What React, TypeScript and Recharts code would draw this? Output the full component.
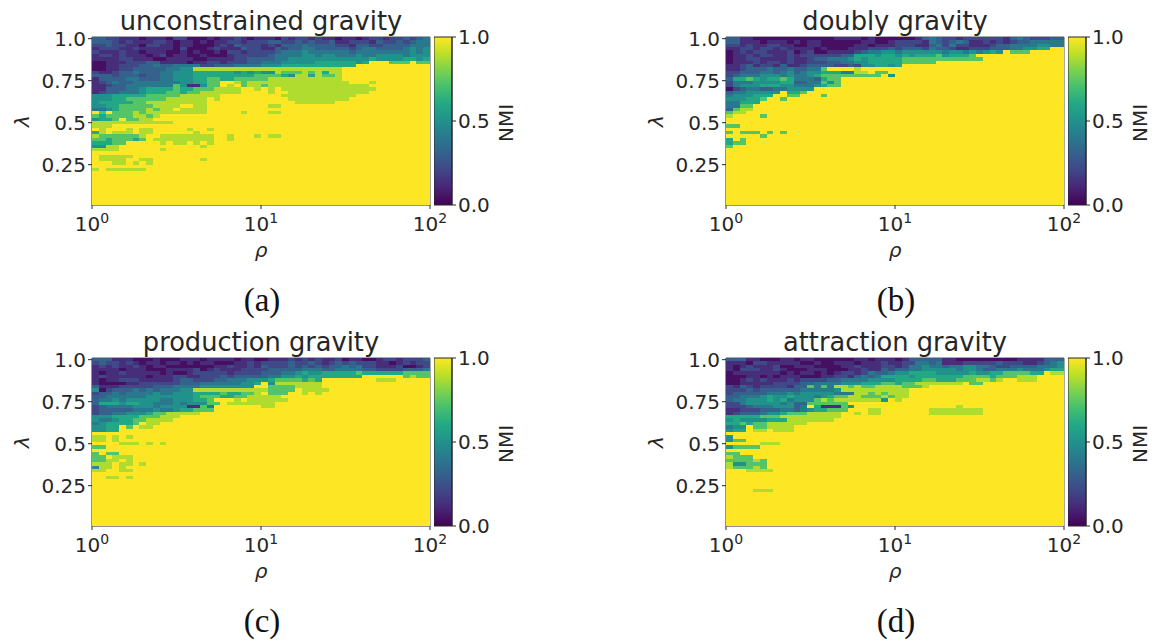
import React from 'react';
import {
  BarChart,
  Bar,
  ScatterChart,
  Scatter,
  XAxis,
  YAxis,
  ReferenceLine,
} from 'recharts';

// rho of each heatmap column (log spaced, cell centres)
const rhoValues = [
  1.047, 1.148, 1.259, 1.38, 1.514, 1.66, 1.82, 1.995, 2.188, 2.399,
  2.63, 2.884, 3.162, 3.467, 3.802, 4.169, 4.571, 5.012, 5.495, 6.026,
  6.607, 7.244, 7.943, 8.71, 9.55, 10.47, 11.48, 12.59, 13.8, 15.14,
  16.6, 18.2, 19.95, 21.88, 23.99, 26.3, 28.84, 31.62, 34.67, 38.02,
  41.69, 45.71, 50.12, 54.95, 60.26, 66.07, 72.44, 79.43, 87.1, 95.5,
];

// lambda of each heatmap row, top row first
const lambdaValues = [
  1.0, 0.98, 0.96, 0.94, 0.92, 0.9, 0.88, 0.86, 0.84, 0.82,
  0.8, 0.78, 0.76, 0.74, 0.72, 0.7, 0.68, 0.66, 0.64, 0.62,
  0.6, 0.58, 0.56, 0.54, 0.52, 0.5, 0.48, 0.46, 0.44, 0.42,
  0.4, 0.38, 0.36, 0.34, 0.32, 0.3, 0.28, 0.26, 0.24, 0.22,
  0.2, 0.18, 0.16, 0.14, 0.12, 0.1, 0.08, 0.06, 0.04, 0.02,
];

// NMI for the digits used in the rows below, '.' means 1.0
const nmiLevels = [0.04, 0.13, 0.22, 0.31, 0.4, 0.5, 0.6, 0.73, 0.88, 0.95];

// Rows, top to bottom. Columns are grouped in tens,
// whatever is left out of a row (or a whole row) is NMI 1.0
const unconstrainedRows = [
  '3322111011 1022000101 1210111021 2212110110 1221223234',
  '3332121112 2101101011 2212223322 3232231122 2132232344',
  '2232211022 1101100012 1322212133 3433332213 3223333444',
  '1222112111 1102000121 1132211323 3443333323 4433334545',
  '2111211011 1001010010 2212222344 4544444434 4444444545',
  '1221211101 2011001000 1222223444 4554554445 4455554555',
  '1111221110 0111100111 1223333445 5555555555 5655556656',
  '0011122233 1111011221 2223344455 5556666665 6...777.77',
  '0011222334 3344442233 3444455566 666666666. ..........',
  '0011223333 3445588888 8888888888 8888888... ..........',
  '2112334333 4455566666 6565655877 7878688... ..........',
  '3332333233 4455566666 6666777765 8868778... ..........',
  '1333344333 4455566776 6777778888 8888888... ..........',
  '1234334444 444556677. .878888888 88888888.. .8........',
  '1123344444 447511577. 8.78878888 8888888888 8.........',
  '1133344566 6676677788 88..8.8.88 8888888888 88........',
  '1233444566 6776778888 88....8..8 8888888888 8.........',
  '5556666677 777888888. ........88 888888888. ..........',
  '5556677777 7888888.8. .........8 88888888.. ..........',
  '5666667788 8888888... .......... 888888.... ..........',
  '5566777778 888..88... ......88..',
  '4456777787 88.8888...',
  '.7.7778788 8888888... ..8...88..',
  '7677778878',
  '5667.7788.',
  '8888888888 88',
  '888',
  '.8...8.88. ....8..8..',
  '68.888.88. .....8....',
  '87777778.. 88888888.. 8...8.88..',
  '77677767.8 88888888.. 8.........',
  '66677..... 8.88.8.8..',
  '5588...... ......8...',
  '8888...... 8.',
  '',
  '.88888',
  '.8888..88. ......8...',
  '...88.8.8.',
  '',
  '8.888888',
];

const doublyRows = [
  '3311000000 0000001111 0100000013 4322122222 2134322233',
  '3311101110 1011000000 1100122221 4323431121 2123344444',
  '2212112211 0011000001 1011122211 3424221112 3344445544',
  '1122122121 1110100011 1222323332 4332112223 33445566..',
  '0121221112 0120011112 3445545555 5545545456 5.777.....',
  '0112122112 1222222336 6656656566 6756667... ..........',
  '0112211112 1123344456 5666667777 77777777.. ..........',
  '0111212212 1122233445 5666667777 7......... ..........',
  '1123122131 1233332232 556656.... .......... ..........',
  '1123334334 33447....8',
  '2233344345 3455666448 8.77......',
  '2344455545 4456777777 777.5.....',
  '3667656676 4443677...',
  '2444555566 3344757...',
  '2455566655 4445677...',
  '0234433445 555.......',
  '3445555 5.6 67........',
  '4555666..7 7...7.....',
  '555667..7.',
  '44666',
  '4477',
  '3788',
  '788',
  '8....7',
  '',
  '',
  '77',
  '',
  '7.777.7.7',
  '.....7',
  '6.7',
  '677',
  '7',
];

const productionRows = [
  '3331110001 0001110111 1011001112 1212112011 0012212223',
  '2322121011 0110101100 0112122223 2232123232 2211012122',
  '1212112101 1000000011 2112132223 2323233434 2211120012',
  '1111011100 0111120121 1122223333 3444334444 3322223334',
  '1011211111 0100122222 1222233344 5655666667 6666667777',
  '1211111101 1122112223 2333334455 6566666666 ......7877',
  '1011222111 1123322233 4445556777 7676...... ..888.....',
  '1000011222 2223334444 44556.5888 8888...... ..........',
  '3111222223 3344445555 5555..7777 8888...... ..........',
  '5023334343 4445588888 8888887777 .8888..... ..........',
  '2334344445 4455566667 66778.777. .8.8......',
  '3344444455 5555567776 67788888..',
  '3445455555 44555667.. .8.888888.',
  '3666566554 445455577. 8888888...',
  '2344445554 55551174.. .....88...',
  '2333334445 44566777..',
  '2334455567 788888....',
  '5556666777 888.......',
  '5445667788 88........',
  '4566667.88',
  '5566.7.88',
  '5566',
  '',
  '88.8.8',
  '88.8',
  '....888.8. 8',
  '77',
  '',
  '7.77',
  '77.888',
  '7788.8',
  '888.88.8',
  '588.8',
  '88..88',
  '',
  '..88.8',
];

const attractionRows = [
  '3331100011 0110000001 1011101333 3311000000 0001111333',
  '1110221111 1001001110 1112112244 3411122222 3222112345',
  '1012111200 1110000112 1112212445 4434455443 2233334445',
  '1022211210 0011100011 2113233445 5555455433 4445444566',
  '0111111101 0110101221 2433455666 6555556556 6777766.88',
  '0001101011 1000112213 4346666566 6666677776 777888....',
  '0012121112 1222233444 4555566667 7666777887 8..888....',
  '0011111222 2334444555 6667767788 88888.77.. ..........',
  '2132122221 3374748878 7788887778',
  '2223233333 3444445888 8888888...',
  '2333334445 4555554448 8787888...',
  '3344456556 5554567788 7778788...',
  '3445556564 5557878888 8885.8....',
  '2245555545 33777777..',
  '2223444555 34.611175. .......... ....8.....',
  '1122233344 34566777.. .88....... 88888888..',
  '1233345567 7788888..8 .88....... 88888888..',
  '6666677788 8888888...',
  '5655556668 888888....',
  '6676778888 88........',
  '455.778888',
  '566.88.888',
  '',
  '5',
  '577',
  '.....888',
  '57777',
  '',
  '77',
  '8777',
  '777787',
  '855777',
  '877787',
  '...8888',
  '',
  '',
  '',
  '',
  '',
  '....888',
];

const xTicks = [1, 10, 100];
const yTicks = [0.25, 0.5, 0.75, 1];
const colorbarTicks = [0, 0.5, 1];

const VIRIDIS = [
  '#440154', '#482475', '#414487', '#355f8d', '#2a788e', '#21918c',
  '#22a884', '#44bf70', '#7ad151', '#bddf26', '#fde725',
];

const INK = '#262626';
const SANS = '"DejaVu Sans", sans-serif';
const PLOT_W = 338;
const PLOT_H = 168;
const AXIS_W = 92;
const AXIS_H = 60;
const TOP_PAD = 14;
const RIGHT_PAD = 30;
const CBAR_W = 18;
const CBAR_AXIS = 80;
const CELL_W = PLOT_W / rhoValues.length;
const CELL_H = PLOT_H / lambdaValues.length;

const panels = [
  { key: 'a', title: 'unconstrained gravity', tag: '(a)', rows: unconstrainedRows, left: 92, top: 37 },
  { key: 'b', title: 'doubly gravity', tag: '(b)', rows: doublyRows, left: 726, top: 37 },
  { key: 'c', title: 'production gravity', tag: '(c)', rows: productionRows, left: 92, top: 358 },
  { key: 'd', title: 'attraction gravity', tag: '(d)', rows: attractionRows, left: 726, top: 358 },
];

const viridis = (v: number) => {
  const pos = Math.min(Math.max(v, 0), 1) * (VIRIDIS.length - 1);
  const i = Math.min(Math.floor(pos), VIRIDIS.length - 2);
  const t = pos - i;
  const a = VIRIDIS[i];
  const b = VIRIDIS[i + 1];
  const mix = (s: number) => {
    const ca = parseInt(a.slice(s, s + 2), 16);
    const cb = parseInt(b.slice(s, s + 2), 16);
    return Math.round(ca + (cb - ca) * t);
  };
  return `rgb(${mix(1)},${mix(3)},${mix(5)})`;
};

const buildCells = (rows: string[]) =>
  lambdaValues.flatMap((lambda, r) => {
    const row = (rows[r] || '').replace(/ /g, '').padEnd(rhoValues.length, '.');
    return rhoValues.map((rho, c) => {
      const ch = row[c];
      return { rho, lambda, nmi: ch === '.' ? 1 : nmiLevels[Number(ch)] };
    });
  });

const HeatCell = (props: any) => {
  const { cx, cy, payload } = props;
  return (
    <rect
      x={cx - CELL_W / 2}
      y={cy - CELL_H / 2}
      width={CELL_W + 0.4}
      height={CELL_H + 0.4}
      fill={viridis(payload.nmi)}
      shapeRendering="crispEdges"
    />
  );
};

const PowerTick = (props: any) => {
  const { x, y, payload } = props;
  return (
    <text x={x} y={y + 20} textAnchor="middle" fontFamily={SANS} fontSize={20} fill={INK}>
      10
      <tspan dy={-8} fontSize={14}>
        {Math.round(Math.log10(payload.value))}
      </tspan>
    </text>
  );
};

// axis title placed by hand, recharts anchors rotated labels at their end
const AxisText = ({ text, px, py, rotate, italic }: any) => (
  <text
    x={px}
    y={py}
    textAnchor="middle"
    dominantBaseline="central"
    transform={rotate ? `rotate(-90 ${px} ${py})` : undefined}
    fontFamily={SANS}
    fontStyle={italic ? 'italic' : 'normal'}
    fontSize={20}
    fill={INK}
  >
    {text}
  </text>
);

const formatY = (v: number) => (v === 1 ? '1.0' : String(v));

const Panel = ({ panel }: { panel: (typeof panels)[number] }) => {
  const cells = buildCells(panel.rows);
  const gradientId = `viridis-${panel.key}`;
  return (
    <>
      <div
        style={{
          position: 'absolute',
          left: panel.left - 40,
          width: PLOT_W + 80,
          top: panel.top - 31,
          textAlign: 'center',
          fontFamily: SANS,
          fontSize: 25.7,
          lineHeight: '30px',
          color: INK,
        }}
      >
        {panel.title}
      </div>

      <div style={{ position: 'absolute', left: panel.left - AXIS_W, top: panel.top - TOP_PAD }}>
        <ScatterChart
          width={AXIS_W + PLOT_W + RIGHT_PAD}
          height={TOP_PAD + PLOT_H + AXIS_H}
          margin={{ top: TOP_PAD, right: RIGHT_PAD, bottom: 0, left: 0 }}
        >
          <XAxis
            type="number"
            dataKey="rho"
            scale="log"
            domain={[1, 100]}
            ticks={xTicks}
            interval={0}
            allowDataOverflow
            height={AXIS_H}
            stroke={INK}
            tickSize={4}
            tick={<PowerTick />}
            label={<AxisText text="ρ" italic px={AXIS_W + PLOT_W / 2} py={TOP_PAD + PLOT_H + 45} />}
          />
          <YAxis
            type="number"
            dataKey="lambda"
            domain={[0.01, 1.01]}
            ticks={yTicks}
            interval={0}
            allowDataOverflow
            width={AXIS_W}
            stroke={INK}
            tickSize={4}
            tickFormatter={formatY}
            tick={{ fontFamily: SANS, fontSize: 20, fill: INK }}
            label={<AxisText text="λ" italic rotate px={22} py={TOP_PAD + PLOT_H / 2} />}
          />
          <Scatter data={cells} shape={HeatCell} isAnimationActive={false} />
          <ReferenceLine x={100} stroke="#555" />
          <ReferenceLine y={1.01} stroke="#555" />
        </ScatterChart>
      </div>

      <div style={{ position: 'absolute', left: panel.left + PLOT_W + 4, top: panel.top - TOP_PAD }}>
        <BarChart
          width={CBAR_W + CBAR_AXIS}
          height={TOP_PAD + PLOT_H + 14}
          data={[{ name: 'NMI', top: 1 }]}
          margin={{ top: TOP_PAD, right: 0, bottom: 14, left: 0 }}
          barCategoryGap={0}
        >
          <defs>
            <linearGradient id={gradientId} x1="0" y1="1" x2="0" y2="0">
              {VIRIDIS.map((c, i) => (
                <stop key={c} offset={i / (VIRIDIS.length - 1)} stopColor={c} />
              ))}
            </linearGradient>
          </defs>
          <XAxis dataKey="name" hide />
          <YAxis
            orientation="right"
            domain={[0, 1]}
            ticks={colorbarTicks}
            interval={0}
            width={CBAR_AXIS}
            stroke={INK}
            tickSize={4}
            tickFormatter={(v: number) => v.toFixed(1)}
            tick={{ fontFamily: SANS, fontSize: 20, fill: INK }}
            label={<AxisText text="NMI" rotate px={CBAR_W + 54} py={TOP_PAD + PLOT_H / 2 + 2} />}
          />
          <Bar dataKey="top" fill={`url(#${gradientId})`} stroke={INK} isAnimationActive={false} />
        </BarChart>
      </div>

      <div
        style={{
          position: 'absolute',
          left: panel.left + 1,
          width: PLOT_W,
          top: panel.top + 245,
          textAlign: 'center',
          fontFamily: '"Liberation Serif", serif',
          fontSize: 33,
          lineHeight: '36px',
          color: '#111',
        }}
      >
        {panel.tag}
      </div>
    </>
  );
};

export default function App() {
  return (
    <div style={{ position: 'absolute', left: 0, top: 0, width: 1156, height: 642, background: '#fff', overflow: 'hidden' }}>
      {panels.map((p) => (
        <Panel key={p.key} panel={p} />
      ))}
    </div>
  );
}
